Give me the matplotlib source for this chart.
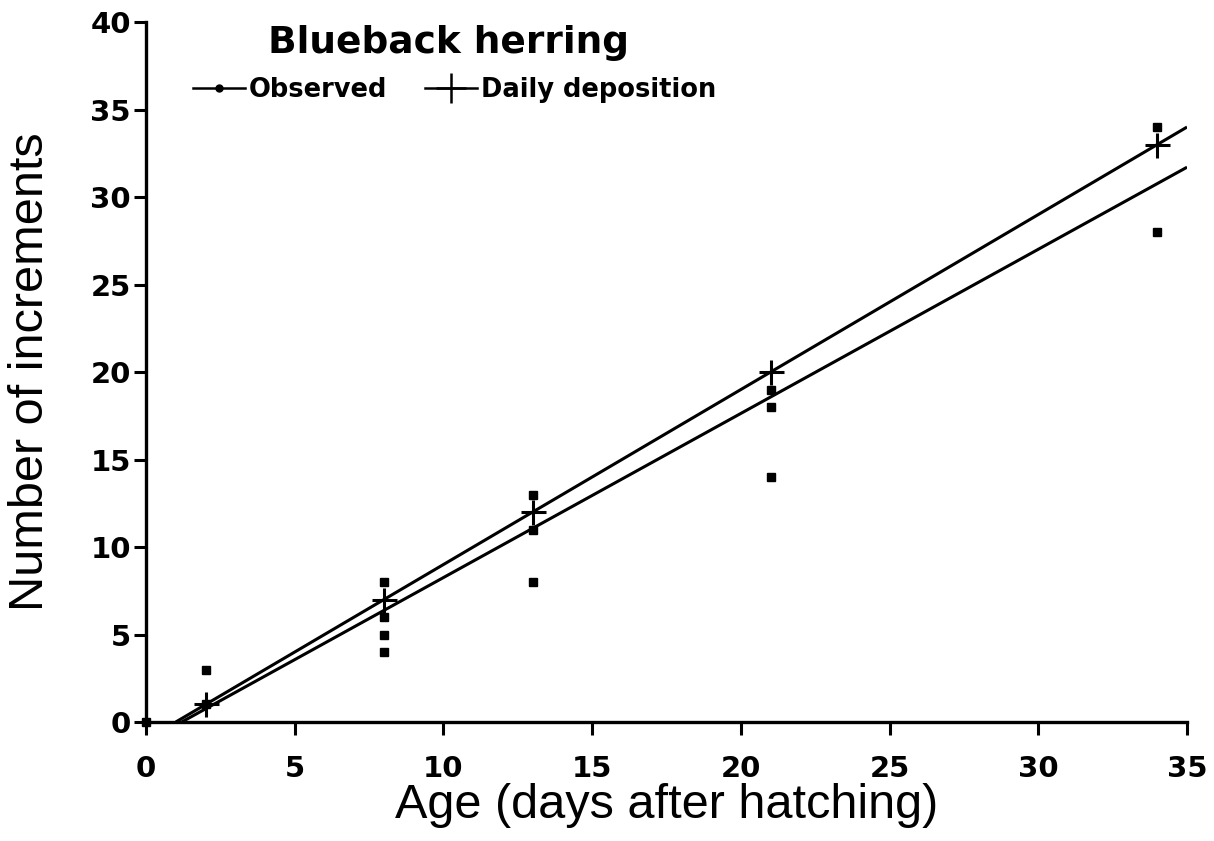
import matplotlib.pyplot as plt
from matplotlib.lines import Line2D
import numpy as np

# observed increment counts
obs_age = [0, 2, 2, 8, 8, 8, 8, 13, 13, 13, 21, 21, 21, 34, 34]
obs_incr = [0, 3, 1, 8, 6, 5, 4, 13, 11, 8, 19, 18, 14, 34, 28]

# expected under daily deposition
daily_age = [2, 8, 13, 21, 34]
daily_incr = [1, 7, 12, 20, 33]

# fitted lines: slope, intercept
daily_line = (1.0, -1.0)
obs_line = (0.938, -1.125)

x_ticks = list(range(0, 36, 5))
y_ticks = list(range(0, 41, 5))

fig = plt.figure(figsize=(12.14, 8.41), dpi=100)
ax = fig.add_axes([0.1203, 0.1415, 0.8575, 0.8323])

for slope, icpt in (daily_line, obs_line):
    x0 = -icpt / slope
    xs = np.array([x0, 35])
    ax.plot(xs, slope * xs + icpt, color='black', linewidth=2.2, solid_capstyle='butt')

ax.plot(obs_age, obs_incr, linestyle='none', marker='s', markersize=5.5,
        color='black', clip_on=False, zorder=4)
ax.plot(daily_age, daily_incr, linestyle='none', marker='+', markersize=18,
        markeredgewidth=2.2, color='black', zorder=5)

ax.set_xlim(0, 35)
ax.set_ylim(0, 40)
ax.set_xticks(x_ticks)
ax.set_yticks(y_ticks)
for s in ('top', 'right'):
    ax.spines[s].set_visible(False)
for s in ('left', 'bottom'):
    ax.spines[s].set_linewidth(2.4)
ax.tick_params(direction='out', length=9, width=2.2, labelsize=21)
ax.tick_params(axis='x', pad=15)
ax.tick_params(axis='y', pad=2)
for lab in ax.get_xticklabels() + ax.get_yticklabels():
    lab.set_fontweight('heavy')
    lab.set_family('DejaVu Sans')

ax.set_xlabel('Age (days after hatching)', fontsize=35, family='Liberation Sans', labelpad=0)
ax.set_ylabel('Number of increments', fontsize=35, family='Liberation Sans', labelpad=27)

ax.text(0.117, 0.97, 'Blueback herring', transform=ax.transAxes, fontsize=27,
        fontweight='bold', family='DejaVu Sans', va='center', ha='left')

handles = [
    Line2D([], [], color='black', linewidth=1.8, marker='o', markersize=5),
    Line2D([], [], color='black', linewidth=1.8, marker='+', markersize=22, markeredgewidth=1.8),
]
leg = ax.legend(handles, ['Observed', 'Daily deposition'], ncol=2, frameon=False,
                loc='center left', bbox_to_anchor=(0.033, 0.903), handlelength=2.0,
                handletextpad=0.15, columnspacing=1.5, borderpad=0,
                prop={'family': 'DejaVu Sans', 'weight': 'bold', 'size': 18.5})

fig.savefig('out.png', dpi=100)
